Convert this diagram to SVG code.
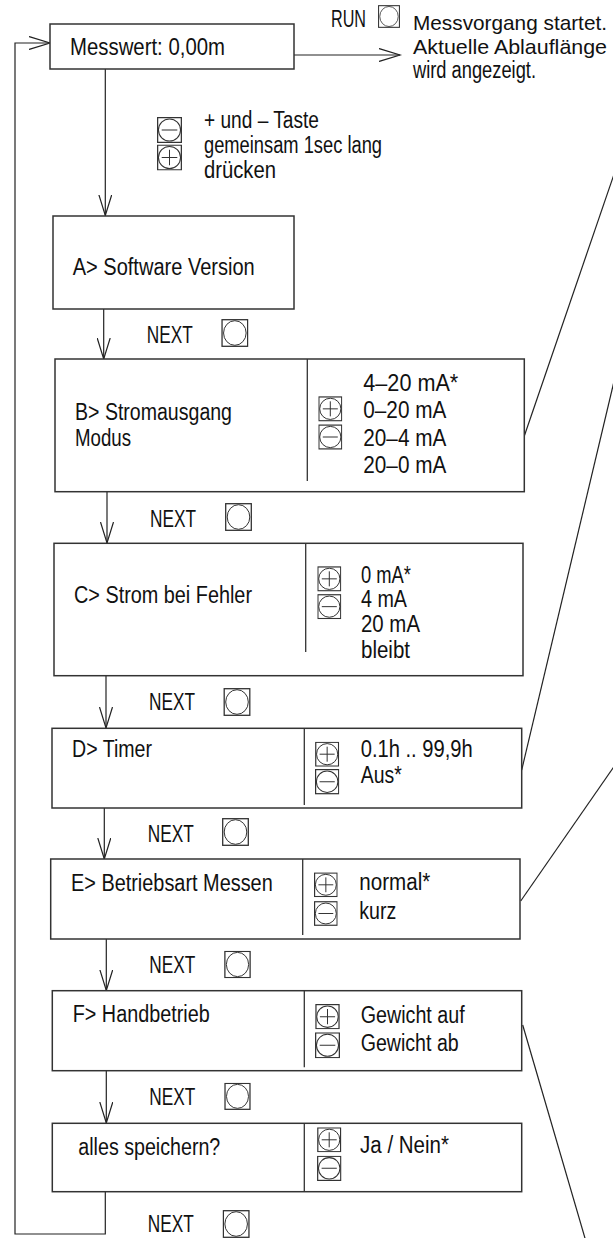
<svg xmlns="http://www.w3.org/2000/svg" xmlns:xlink="http://www.w3.org/1999/xlink" width="613" height="1238" viewBox="0 0 613 1238">
<style>
.t{font-family:"Liberation Sans Narrow","Liberation Sans",Arial,sans-serif;font-size:23px;fill:#111}
.s{font-size:21px}
.box{fill:#fff;stroke:#333;stroke-width:1.5}
.div{stroke:#333;stroke-width:1.3;fill:none}
.ln{stroke:#222;stroke-width:1.2;fill:none}
</style>
<defs>
<marker id="ah" markerUnits="userSpaceOnUse" viewBox="0 0 24 14" markerWidth="24" markerHeight="14" refX="21" refY="7" orient="auto">
<path d="M0,0.5 L21,7 L0,13.5" fill="none" stroke="#222" stroke-width="1.2"/>
</marker>
<symbol id="bO" viewBox="0 0 27 28"><rect x="0.7" y="0.7" width="25.6" height="26.6" fill="#fff" stroke="#333" stroke-width="1.3"/><ellipse cx="13.5" cy="14" rx="11.3" ry="12.3" fill="none" stroke="#333" stroke-width="1"/></symbol>
<symbol id="bP" viewBox="0 0 24 25"><rect x="0.6" y="0.6" width="22.8" height="23.8" fill="#fff" stroke="#333" stroke-width="1.2"/><circle cx="12" cy="12.5" r="10.6" fill="none" stroke="#333" stroke-width="1"/><path d="M4.5 12.5H19.5M12 5V20" stroke="#333" stroke-width="1"/></symbol>
<symbol id="bM" viewBox="0 0 24 25"><rect x="0.6" y="0.6" width="22.8" height="23.8" fill="#fff" stroke="#333" stroke-width="1.2"/><circle cx="12" cy="12.5" r="10.6" fill="none" stroke="#333" stroke-width="1"/><path d="M4.5 12.5H19.5" stroke="#333" stroke-width="1"/></symbol>
</defs>

<g id="connectors">
<path class="ln" d="M105.3 1191.7V1234H15V43H50" marker-end="url(#ah)"/>
<path class="ln" d="M294 55H400" marker-end="url(#ah)"/>
<path class="ln" d="M105.3 69V215.5" marker-end="url(#ah)"/>
<path class="ln" d="M103.7 309V359" marker-end="url(#ah)"/>
<path class="ln" d="M107 491.7V543" marker-end="url(#ah)"/>
<path class="ln" d="M106 675.7V728" marker-end="url(#ah)"/>
<path class="ln" d="M104.3 808V859" marker-end="url(#ah)"/>
<path class="ln" d="M106.3 939V990.5" marker-end="url(#ah)"/>
<path class="ln" d="M106.3 1070.7V1123" marker-end="url(#ah)"/>
<path class="ln" d="M524.3 436L622 151"/>
<path class="ln" d="M521.7 770L621 352"/>
<path class="ln" d="M520.7 901L622 755"/>
<path class="ln" d="M522.7 1025L587 1245"/>
</g>

<g id="messwert">
<rect class="box" x="50" y="24" width="244" height="45"/>
<text class="t" x="70" y="55" textLength="155" lengthAdjust="spacingAndGlyphs">Messwert: 0,00m</text>
</g>

<g id="run">
<text class="t" x="331" y="27" textLength="35" lengthAdjust="spacingAndGlyphs">RUN</text>
<use xlink:href="#bO" x="378" y="5" width="22" height="23"/>
<text class="t s" x="413" y="30" textLength="194" lengthAdjust="spacingAndGlyphs">Messvorgang startet.</text>
<text class="t s" x="413" y="54" textLength="194" lengthAdjust="spacingAndGlyphs">Aktuelle Ablauflänge</text>
<text class="t" x="413" y="78" textLength="123" lengthAdjust="spacingAndGlyphs">wird angezeigt.</text>
</g>

<g id="taste">
<use xlink:href="#bM" x="157" y="117" width="25" height="26"/>
<use xlink:href="#bP" x="157" y="144.5" width="25" height="26"/>
<text class="t" x="204" y="128" textLength="115" lengthAdjust="spacingAndGlyphs">+ und – Taste</text>
<text class="t" x="204" y="153" textLength="178" lengthAdjust="spacingAndGlyphs">gemeinsam 1sec lang</text>
<text class="t" x="204" y="178" textLength="72" lengthAdjust="spacingAndGlyphs">drücken</text>
</g>

<g id="nodeA">
<rect class="box" x="53" y="216" width="241" height="93"/>
<text class="t" x="72.7" y="275" textLength="182" lengthAdjust="spacingAndGlyphs">A&gt; Software Version</text>
</g>

<g id="next1">
<text class="t" x="146.7" y="342.7" textLength="46" lengthAdjust="spacingAndGlyphs">NEXT</text>
<use xlink:href="#bO" x="221" y="319" width="27.7" height="28"/>
</g>

<g id="nodeB">
<rect class="box" x="55" y="359" width="469.3" height="132.7"/>
<path class="div" d="M307.3 359V481"/>
<text class="t" x="75" y="420" textLength="157" lengthAdjust="spacingAndGlyphs">B&gt; Stromausgang</text>
<text class="t" x="75" y="446" textLength="56" lengthAdjust="spacingAndGlyphs">Modus</text>
<use xlink:href="#bP" x="318.3" y="396" width="24" height="25.7"/>
<use xlink:href="#bM" x="318.3" y="424" width="24" height="26"/>
<text class="t" x="363.3" y="390.7" textLength="95" lengthAdjust="spacingAndGlyphs">4–20 mA*</text>
<text class="t" x="363.3" y="418.3" textLength="83" lengthAdjust="spacingAndGlyphs">0–20 mA</text>
<text class="t" x="363.3" y="445.7" textLength="83" lengthAdjust="spacingAndGlyphs">20–4 mA</text>
<text class="t" x="363.3" y="473.3" textLength="83" lengthAdjust="spacingAndGlyphs">20–0 mA</text>
</g>

<g id="next2">
<text class="t" x="150" y="526.7" textLength="46" lengthAdjust="spacingAndGlyphs">NEXT</text>
<use xlink:href="#bO" x="225" y="503" width="27" height="28"/>
</g>

<g id="nodeC">
<rect class="box" x="54" y="543.3" width="469" height="132.4"/>
<path class="div" d="M305.7 543.3V652"/>
<text class="t" x="74" y="603.3" textLength="178" lengthAdjust="spacingAndGlyphs">C&gt; Strom bei Fehler</text>
<use xlink:href="#bP" x="317.3" y="566" width="24" height="25.7"/>
<use xlink:href="#bM" x="317.3" y="594" width="24" height="25.3"/>
<text class="t" x="361" y="583.3" textLength="50" lengthAdjust="spacingAndGlyphs">0 mA*</text>
<text class="t" x="361" y="607" textLength="46" lengthAdjust="spacingAndGlyphs">4 mA</text>
<text class="t" x="361" y="632" textLength="59" lengthAdjust="spacingAndGlyphs">20 mA</text>
<text class="t" x="361" y="658" textLength="49" lengthAdjust="spacingAndGlyphs">bleibt</text>
</g>

<g id="next3">
<text class="t" x="149" y="710" textLength="46" lengthAdjust="spacingAndGlyphs">NEXT</text>
<use xlink:href="#bO" x="223" y="688" width="28" height="28"/>
</g>

<g id="nodeD">
<rect class="box" x="52" y="728.3" width="469.7" height="79.7"/>
<path class="div" d="M304.3 728.3V805"/>
<text class="t" x="72" y="757.3" textLength="80" lengthAdjust="spacingAndGlyphs">D&gt; Timer</text>
<use xlink:href="#bP" x="315" y="741.7" width="24.3" height="25"/>
<use xlink:href="#bM" x="315" y="768.3" width="24.3" height="26.7"/>
<text class="t" x="360.7" y="757.3" textLength="112" lengthAdjust="spacingAndGlyphs">0.1h .. 99,9h</text>
<text class="t" x="360.7" y="783.3" textLength="41" lengthAdjust="spacingAndGlyphs">Aus*</text>
</g>

<g id="next4">
<text class="t" x="147.7" y="841.7" textLength="46" lengthAdjust="spacingAndGlyphs">NEXT</text>
<use xlink:href="#bO" x="222" y="818" width="27" height="28"/>
</g>

<g id="nodeE">
<rect class="box" x="50.7" y="859" width="469.3" height="80"/>
<path class="div" d="M302.7 859V935"/>
<text class="t" x="71" y="890.7" textLength="201.7" lengthAdjust="spacingAndGlyphs">E&gt; Betriebsart Messen</text>
<use xlink:href="#bP" x="314" y="872.3" width="23.7" height="25"/>
<use xlink:href="#bM" x="314" y="901" width="23.7" height="25"/>
<text class="t" x="359.3" y="890" textLength="71" lengthAdjust="spacingAndGlyphs">normal*</text>
<text class="t" x="359.3" y="919" textLength="37" lengthAdjust="spacingAndGlyphs">kurz</text>
</g>

<g id="next5">
<text class="t" x="149.3" y="973.3" textLength="46" lengthAdjust="spacingAndGlyphs">NEXT</text>
<use xlink:href="#bO" x="223.7" y="950.7" width="27.6" height="27.6"/>
</g>

<g id="nodeF">
<rect class="box" x="52.3" y="990.7" width="469.4" height="80"/>
<path class="div" d="M304.3 990.7V1067.3"/>
<text class="t" x="72.7" y="1022.3" textLength="137" lengthAdjust="spacingAndGlyphs">F&gt; Handbetrieb</text>
<use xlink:href="#bP" x="315" y="1004" width="25" height="25.3"/>
<use xlink:href="#bM" x="315" y="1032.3" width="25" height="26"/>
<text class="t" x="360.7" y="1023.3" textLength="104" lengthAdjust="spacingAndGlyphs">Gewicht auf</text>
<text class="t" x="360.7" y="1050.7" textLength="98" lengthAdjust="spacingAndGlyphs">Gewicht ab</text>
</g>

<g id="next6">
<text class="t" x="149.3" y="1105" textLength="46" lengthAdjust="spacingAndGlyphs">NEXT</text>
<use xlink:href="#bO" x="223.7" y="1082.7" width="27.6" height="27.3"/>
</g>

<g id="nodeSave">
<rect class="box" x="52.3" y="1123.3" width="469.4" height="68.4"/>
<path class="div" d="M304.3 1123.3V1191.7"/>
<text class="t" x="78.3" y="1155" textLength="142" lengthAdjust="spacingAndGlyphs">alles speichern?</text>
<use xlink:href="#bP" x="316.7" y="1127.3" width="25" height="25"/>
<use xlink:href="#bM" x="316.7" y="1155.7" width="25" height="25.3"/>
<text class="t" x="360" y="1153.3" textLength="89" lengthAdjust="spacingAndGlyphs">Ja / Nein*</text>
</g>

<g id="next7">
<text class="t" x="147.7" y="1232" textLength="46" lengthAdjust="spacingAndGlyphs">NEXT</text>
<use xlink:href="#bO" x="222.3" y="1210" width="27.7" height="28"/>
</g>
</svg>
